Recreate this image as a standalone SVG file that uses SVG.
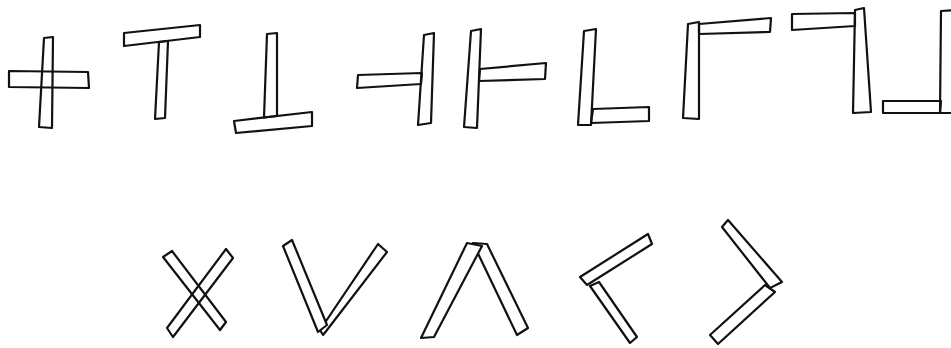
<svg xmlns="http://www.w3.org/2000/svg" width="951" height="348" viewBox="0 0 951 348">
<style>
.s{fill:none;stroke:#111;stroke-width:2.2;stroke-linejoin:round;stroke-linecap:round}
.w{fill:#fff}
</style>
<rect width="951" height="348" fill="#fff"/>
<g id="plus" class="s">
<polygon points="44,38 53,37 52,128 39,127"/>
<polygon points="9,71 88,72 89,88 9,87"/>
</g>
<g id="tee" class="s">
<polygon points="124,33 200,25 200,37 124,46"/>
<polygon points="159,42 168,41 165,118 155,119"/>
</g>
<g id="uptee" class="s">
<polygon points="267,34 277,33 277,116 264,117.5"/>
<polygon points="234,121 312,112 312,126 236,133"/>
</g>
<g id="lefttee" class="s">
<polygon points="358,75 422,73 421,84 357,88"/>
<polygon points="424,35 434,33 431,123 418,125"/>
</g>
<g id="righttee" class="s">
<polygon points="471,31 481,29 477,128 464,127"/>
<polygon points="480,69 546,63 545,79 479,81"/>
</g>
<g id="ell" class="s">
<polygon points="584,31 596,29 591,125 578,125"/>
<polygon points="593,109 649,107 649,121 591,123"/>
</g>
<g id="gamma" class="s">
<polygon points="688,24 699,22 699,119 683,118"/>
<polygon points="699,24 771,18 770,32 699,34"/>
</g>
<g id="revgamma" class="s">
<polygon points="792,14 855,13 855,26 792,30"/>
<polygon points="855,10 864,8 871,112 853,113"/>
</g>
<g id="revell" class="s">
<polygon points="883,101 941,101 940,113 883,113"/>
<polygon points="941,11 956,10 956,113 940,113"/>
</g>
<g id="cross" class="s">
<polygon points="163,257 172,251 226,322 220,330"/>
<polygon points="226,249 233,258 173,337 167,328"/>
</g>
<g id="vee" class="s">
<polygon class="w" points="378,244 387,252 327,330 323,335 320,330"/>
<polygon class="w" points="283,246 292,240 327,325 318,332"/>
</g>
<g id="lambda" class="s">
<polygon class="w" points="473,243 487,244 528,328 517,335"/>
<polygon class="w" points="467,243 482,246 434,337 421,338"/>
</g>
<g id="less" class="s">
<polygon class="w" points="590,286 599,282 637,337 630,343"/>
<polygon class="w" points="580,277 648,234 652,244 587,285"/>
</g>
<g id="greater" class="s">
<polygon class="w" points="765,285 775,292 718,344 710,335"/>
<polygon class="w" points="722,227 728,220 782,282 770,288"/>
</g>
</svg>
